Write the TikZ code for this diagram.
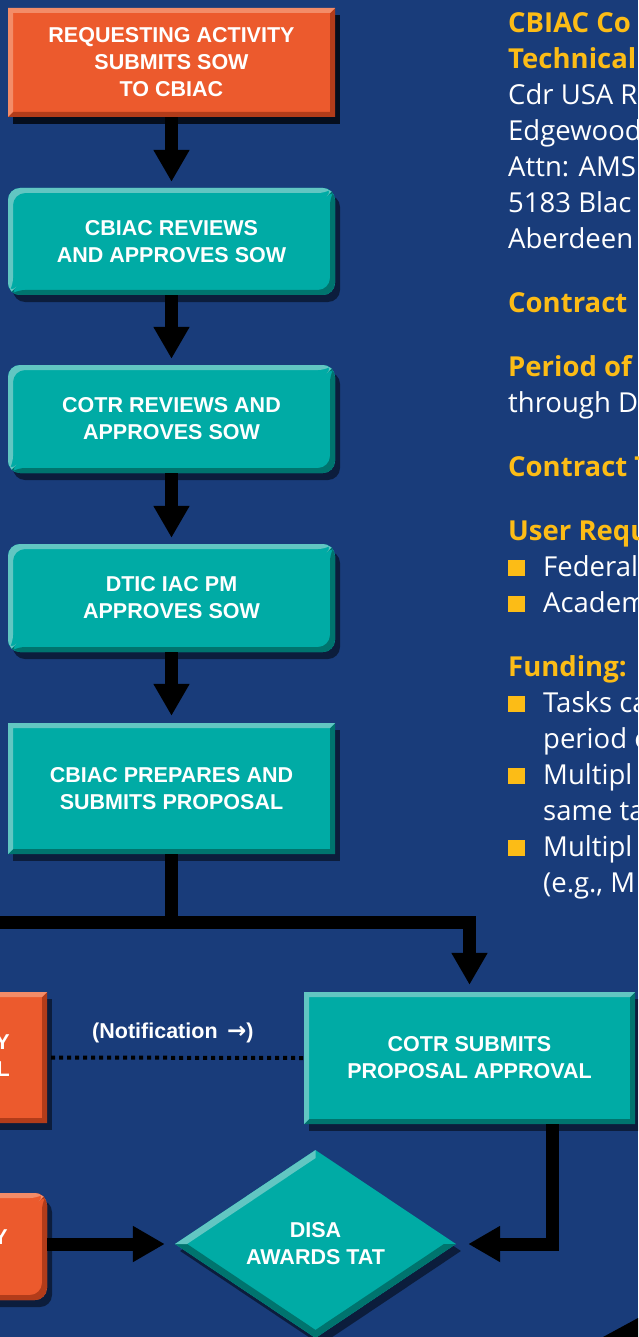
\documentclass[tikz,border=0pt]{standalone}
\usepackage{fontspec}
\setmainfont{Open Sans}
\newfontfamily\boxfont{Liberation Sans}
\newfontfamily\symfont{DejaVu Sans}
\usetikzlibrary{arrows.meta,shapes.geometric,shadows}

\definecolor{bgblue}{RGB}{25,60,122}
\definecolor{tealmain}{RGB}{0,171,165}
\definecolor{teallight}{RGB}{98,198,194}
\definecolor{tealdark}{RGB}{0,116,110}
\definecolor{orgmain}{RGB}{236,90,45}
\definecolor{orglight}{RGB}{243,140,104}
\definecolor{orgdark}{RGB}{178,60,26}
\definecolor{infoyellow}{RGB}{252,188,22}

\newcommand\infohead[1]{{\color{infoyellow}\bfseries #1}}
\newcommand\sqbullet{\textcolor{infoyellow}{\rule{17pt}{16pt}}\hspace{18pt}}

\tikzset{
  bevel/.style 2 args={path picture={
      \coordinate (nw) at (path picture bounding box.north west);
      \coordinate (ne) at (path picture bounding box.north east);
      \coordinate (sw) at (path picture bounding box.south west);
      \coordinate (se) at (path picture bounding box.south east);
      \fill[#2] (se)--(ne)--([shift={(-5pt,-5pt)}]ne)--([shift={(-5pt,5pt)}]se)--([shift={(5pt,5pt)}]sw)--(sw)--cycle;
      \fill[#1] (nw)--(ne)--([shift={(-5pt,-5pt)}]ne)--([shift={(5pt,-5pt)}]nw)--([shift={(5pt,5pt)}]sw)--(sw)--cycle;
    }},
  boxshadow/.style={drop shadow={shadow xshift=5pt,shadow yshift=-7pt,opacity=.5,fill=black}},
  flowbox/.style={fill=tealmain,bevel={teallight}{tealdark},boxshadow,minimum width=327pt,
    text=white,align=center,font=\boxfont\bfseries\fontsize{21.5}{27}\selectfont},
  roundbox/.style={flowbox,rounded corners=12pt},
  actbox/.style={fill=orgmain,bevel={orglight}{orgdark},boxshadow},
  flow/.style={line width=13pt,-{Triangle[length=32pt,width=34pt]}},
  info/.style={inner sep=0pt,text=white,align=left,font=\fontsize{27.5}{36}\selectfont},
}

\begin{document}
\begin{tikzpicture}[x=1pt,y=-1pt]
  \useasboundingbox (0,0) rectangle (638,1337);
  \clip (0,0) rectangle (638,1337);
  \fill[bgblue] (0,0) rectangle (638,1337);

  % left column of steps
  \node[flowbox,actbox,minimum height=109pt] (request) at (171.5,62.5) {REQUESTING ACTIVITY\\SUBMITS SOW\\TO CBIAC};
  \node[roundbox,minimum height=107pt] (cbrev) at (171.5,241.5) {CBIAC REVIEWS\\AND APPROVES SOW};
  \node[roundbox,minimum height=108pt] (cotrrev) at (171.5,419) {COTR REVIEWS AND\\APPROVES SOW};
  \node[roundbox,minimum height=108pt] (dtic) at (171.5,598) {DTIC IAC PM\\APPROVES SOW};
  \node[flowbox,minimum height=131pt] (prepare) at (171.5,788.5) {CBIAC PREPARES AND\\SUBMITS PROPOSAL};

  % lower part
  \node[flowbox,minimum width=331pt,minimum height=132pt] (cotrsub) at (469.5,1058) {COTR SUBMITS\\PROPOSAL APPROVAL};
  \node[diamond,fill=tealmain,boxshadow,inner sep=0pt,minimum width=281pt,minimum height=188pt,
    text=white,align=center,font=\boxfont\bfseries\fontsize{21.5}{27}\selectfont,
    path picture={
      \coordinate (dn) at (path picture bounding box.north);
      \coordinate (ds) at (path picture bounding box.south);
      \coordinate (dw) at (path picture bounding box.west);
      \coordinate (de) at (path picture bounding box.east);
      \fill[tealdark] (dw)--(ds)--(de)--([xshift=-12pt]de)--([yshift=8pt]ds)--([xshift=12pt]dw)--cycle;
      \fill[teallight] (dw)--(dn)--([yshift=-8pt]dn)--([xshift=12pt]dw)--cycle;
    }] (award) at (315.5,1244) {DISA\\AWARDS TAT};
  \node[actbox,minimum width=77pt,minimum height=131pt] (actA) at (8.5,1057.5) {};
  \node[actbox,rounded corners=12pt,minimum width=77pt,minimum height=107pt] (actB) at (8.5,1246.5) {};
  \node[anchor=east,text=white,align=right,inner sep=0pt,font=\boxfont\bfseries\fontsize{21.5}{27}\selectfont] (actAtext) at (10,1056) {Y\\L};
  \node[anchor=east,text=white,inner sep=0pt,font=\boxfont\bfseries\fontsize{21.5}{27}\selectfont] (actBtext) at (8,1237) {Y};

  % connectors
  \draw[flow,shorten >=6pt] (request) -- (cbrev);
  \draw[flow,shorten >=6pt] (cbrev) -- (cotrrev);
  \draw[flow,shorten >=6pt] (cotrrev) -- (dtic);
  \draw[flow,shorten >=7pt] (dtic) -- (prepare);
  \coordinate (split) at (171.5,922);
  \coordinate (offleft) at (-30,922);
  \draw[line width=13pt] (prepare.south) -- (split) -- (offleft);
  \draw[flow,shorten >=7pt] (split) -| (cotrsub.north);
  \draw[line width=4pt,dash pattern=on 4pt off 4pt,shorten <=4pt] (actA.east) -- (cotrsub.west)
    node[pos=.49,yshift=25pt,text=white,font=\boxfont\bfseries\fontsize{21.5}{27}\selectfont] (note) {(Notification\, {\symfont\bfseries\fontsize{23}{27}\selectfont →})};
  \draw[flow,shorten >=12pt] ([xshift=83pt]cotrsub.south) |- (award.east);
  \draw[flow,shorten >=10pt] (actB.east |- award.west) -- (award.west);
  \fill[black] (603,1337) -- (638,1318) -- (638,1337) -- cycle;

  % right column text
  \node[info,anchor=north west] (info) at (508,12) {\infohead{CBIAC Co}\\
    \infohead{Technical}\\
    Cdr USA R\\
    Edgewood\\
    Attn: AMS\\
    5183 Blac\\
    Aberdeen\\[28pt]
    \infohead{Contract}\\[28pt]
    \infohead{Period of}\\
    through D\\[28pt]
    \infohead{Contract T}\\[28pt]
    \infohead{User Requ}\\
    \sqbullet Federal\\
    \sqbullet Academ\\[28pt]
    \infohead{Funding:}\\
    \sqbullet Tasks ca\\
    \hspace*{35pt}period o\\
    \sqbullet Multipl\\
    \hspace*{35pt}same ta\\
    \sqbullet Multipl\\
    \hspace*{35pt}(e.g., M};
\end{tikzpicture}
\end{document}
